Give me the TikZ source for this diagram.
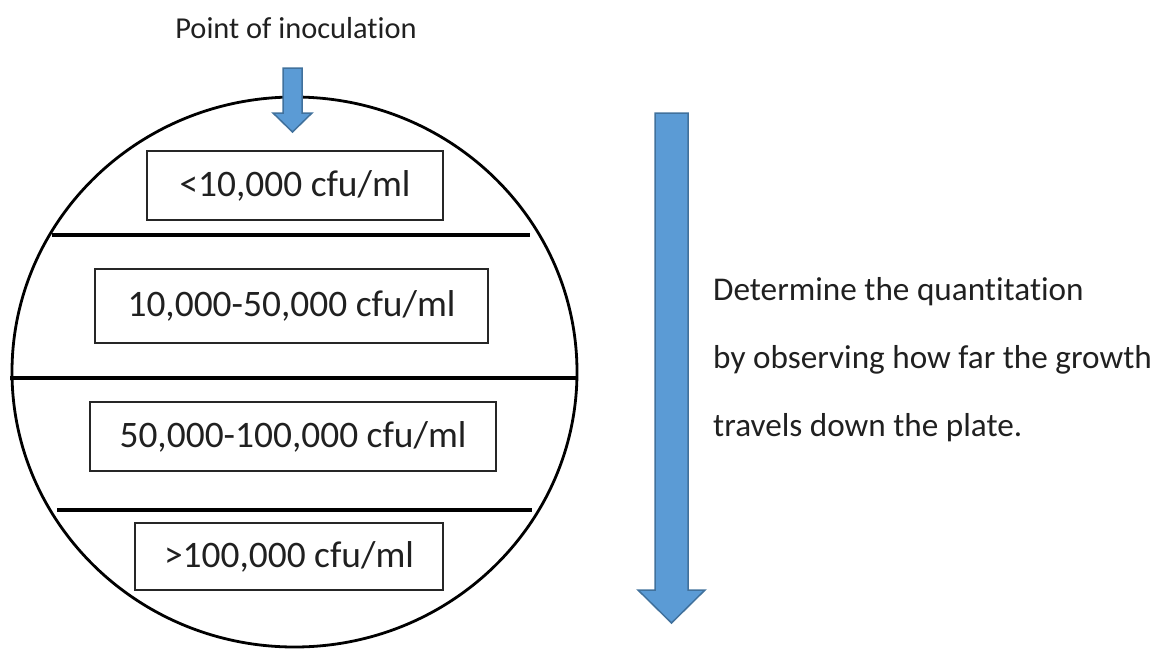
\documentclass[tikz,border=0pt]{standalone}
\usepackage{fontspec}
\setmainfont[Ligatures={NoCommon}]{Carlito}
\definecolor{arrowfill}{HTML}{5B9BD5}
\definecolor{arrowline}{HTML}{41719C}
\definecolor{txt}{HTML}{202020}
\begin{document}
\begin{tikzpicture}[x=1pt,y=-1pt,
  rangebox/.style={draw=black!85,line width=1.4pt,inner sep=0pt,font=\fontsize{37.4}{44}\selectfont,text=txt},
  divider/.style={line width=4.5pt,black},
  blockarrow/.style={fill=arrowfill,draw=arrowline,line width=1.5pt,line join=miter},
  note/.style={font=\fontsize{33.2}{40}\selectfont,text=txt,anchor=base west,inner sep=0pt},
]
\useasboundingbox (0,0) rectangle (1160,649);
% plate
\draw[line width=2.8pt] (294.5,372) ellipse [x radius=282.5, y radius=275];
% dividers
\coordinate (d1l) at (52,235);  \coordinate (d1r) at (530,235);
\coordinate (d2l) at (10,378);  \coordinate (d2r) at (578,378);
\coordinate (d3l) at (57,510);  \coordinate (d3r) at (532,510);
\draw[divider] (d1l) -- (d1r);
\draw[divider] (d2l) -- (d2r);
\draw[divider] (d3l) -- (d3r);
% boxes
\node[rangebox,minimum width=296pt,minimum height=69pt] (b1) at (295,185.5) {<10,000 cfu/ml};
\node[rangebox,minimum width=393pt,minimum height=74pt] (b2) at (291.5,306) {10,000-50,000 cfu/ml};
\node[rangebox,minimum width=406pt,minimum height=69pt] (b3) at (293,436.5) {50,000-100,000 cfu/ml};
\node[rangebox,minimum width=308pt,minimum height=67pt] (b4) at (289,556.5) {>100,000 cfu/ml};
% inoculation label and arrow
\node[font=\fontsize{30.4}{36}\selectfont,text=txt,anchor=base,inner sep=0pt] (poi) at (296,38) {Point of inoculation};
\draw[blockarrow] (283,68) -- (302,68) -- (302,113) -- (312,113) -- (292.5,132) -- (273,113) -- (283,113) -- cycle;
% big arrow
\draw[blockarrow] (655,113) -- (688,113) -- (688,590) -- (705,590) -- (671.5,623) -- (638,590) -- (655,590) -- cycle;
% explanation
\node[note] (n1) at (713,300) {Determine the quantitation};
\node[note] (n2) at (713,368) {by observing how far the growth};
\node[note] (n3) at (713,436) {travels down the plate.};
\end{tikzpicture}
\end{document}
